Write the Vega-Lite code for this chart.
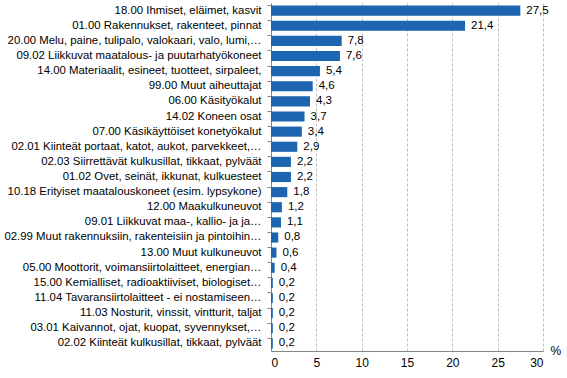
{
  "$schema": "https://vega.github.io/schema/vega-lite/v6.json",
  "width": 272,
  "height": 348,
  "autosize": {"type": "none"},
  "padding": {"left": 271, "top": 3, "right": 24, "bottom": 27},
  "config": {
    "locale": {"number": {"decimal": ",", "thousands": " ", "grouping": [3], "currency": ["", " €"]}},
    "view": {"stroke": null},
    "font": "Liberation Sans"
  },
  "data": {
    "values": [
      {"cause": "18.00 Ihmiset, eläimet, kasvit", "pct": 27.5},
      {"cause": "01.00 Rakennukset, rakenteet, pinnat", "pct": 21.4},
      {"cause": "20.00 Melu, paine, tulipalo, valokaari, valo, lumi,…", "pct": 7.8},
      {"cause": "09.02 Liikkuvat maatalous- ja puutarhatyökoneet", "pct": 7.6},
      {"cause": "14.00 Materiaalit, esineet, tuotteet, sirpaleet,", "pct": 5.4},
      {"cause": "99.00 Muut aiheuttajat", "pct": 4.6},
      {"cause": "06.00 Käsityökalut", "pct": 4.3},
      {"cause": "14.02 Koneen osat", "pct": 3.7},
      {"cause": "07.00 Käsikäyttöiset konetyökalut", "pct": 3.4},
      {"cause": "02.01 Kiinteät portaat, katot, aukot, parvekkeet,…", "pct": 2.9},
      {"cause": "02.03 Siirrettävät kulkusillat, tikkaat, pylväät", "pct": 2.2},
      {"cause": "01.02 Ovet, seinät, ikkunat, kulkuesteet", "pct": 2.2},
      {"cause": "10.18 Erityiset maatalouskoneet (esim. lypsykone)", "pct": 1.8},
      {"cause": "12.00 Maakulkuneuvot", "pct": 1.2},
      {"cause": "09.01 Liikkuvat maa-, kallio- ja ja…", "pct": 1.1},
      {"cause": "02.99 Muut rakennuksiin, rakenteisiin ja pintoihin…", "pct": 0.8},
      {"cause": "13.00 Muut kulkuneuvot", "pct": 0.6},
      {"cause": "05.00 Moottorit, voimansiirtolaitteet, energian…", "pct": 0.4},
      {"cause": "15.00 Kemialliset, radioaktiiviset, biologiset…", "pct": 0.2},
      {"cause": "11.04 Tavaransiirtolaitteet - ei nostamiseen…", "pct": 0.2},
      {"cause": "11.03 Nosturit, vinssit, vintturit, taljat", "pct": 0.2},
      {"cause": "03.01 Kaivannot, ojat, kuopat, syvennykset,…", "pct": 0.2},
      {"cause": "02.02 Kiinteät kulkusillat, tikkaat, pylväät", "pct": 0.2}
    ]
  },
  "encoding": {
    "y": {
      "field": "cause", "type": "nominal", "sort": null,
      "scale": {"paddingInner": 0.33, "paddingOuter": 0.17},
      "axis": {
        "title": null, "bandPosition": 0, "tickSize": 4, "labelPadding": 6,
        "tickColor": "#868686", "domainColor": "#868686",
        "labelFont": "Liberation Sans", "labelFontSize": 11.4, "labelColor": "#000000",
        "labelLimit": 0, "grid": false
      }
    },
    "x": {
      "field": "pct", "type": "quantitative",
      "scale": {"domain": [0, 30], "nice": false},
      "axis": {
        "values": [0, 5, 10, 15, 20, 25, 30], "ticks": false,
        "labelFontSize": 12, "labelColor": "#000000", "labelPadding": 6,
        "labelFont": "Liberation Sans",
        "domainColor": "#868686",
        "grid": true, "gridColor": "#c0c0c0", "gridDash": [3, 2],
        "title": "%", "titleX": 279, "titleY": 3.5, "titleAlign": "left",
        "titleBaseline": "alphabetic", "titleAngle": 0, "titleFontWeight": "normal",
        "titleFontSize": 12, "titleFont": "Liberation Sans", "titleColor": "#000000"
      }
    }
  },
  "layer": [
    {"mark": {"type": "bar", "color": "#1d65b0"}},
    {
      "mark": {"type": "text", "align": "left", "baseline": "middle", "dx": 6, "fontSize": 11.5, "font": "Liberation Sans", "color": "#000000"},
      "encoding": {"text": {"field": "pct", "type": "quantitative", "format": ".1f"}}
    }
  ]
}
